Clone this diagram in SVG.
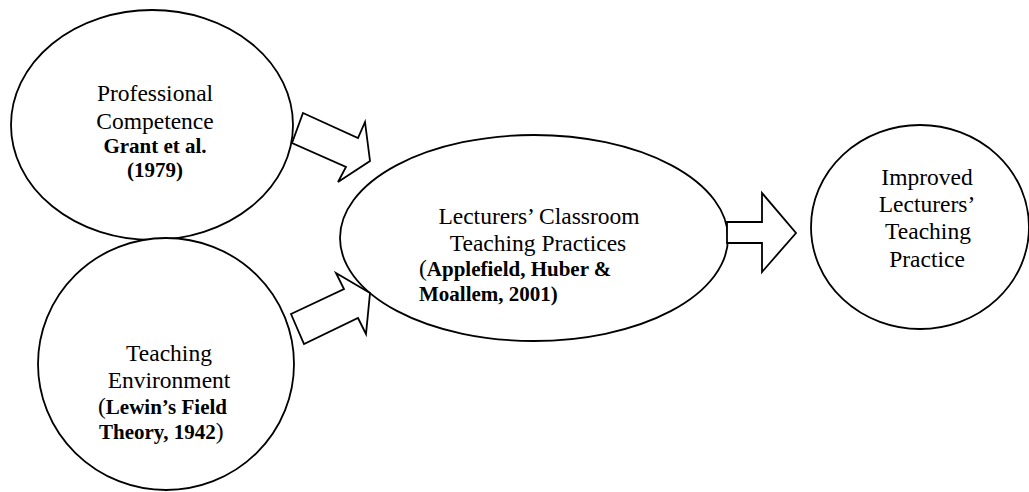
<svg xmlns="http://www.w3.org/2000/svg" width="1029" height="492" viewBox="0 0 1029 492">
<style>
.shape{fill:#fff;stroke:#000;stroke-width:1.8;stroke-linejoin:miter}
text{font-family:"Liberation Serif","Times New Roman",serif;fill:#000}
.r{font-size:23.5px}
.b{font-size:21px;font-weight:bold}
.m{text-anchor:middle}
.pr{font-weight:normal}
</style>
<rect width="1029" height="492" fill="#fff"/>
<g id="node-professional">
<ellipse class="shape" cx="152" cy="125" rx="141" ry="115"/>
<text class="r m" x="155" y="101">Professional</text>
<text class="r m" x="155" y="129">Competence</text>
<text class="b m" x="155" y="153">Grant et al.</text>
<text class="b m" x="155" y="177">(1979)</text>
</g>
<g id="node-environment">
<ellipse class="shape" cx="166" cy="364" rx="128" ry="126"/>
<text class="r m" x="169" y="361">Teaching</text>
<text class="r m" x="169" y="388">Environment</text>
<text class="b" x="98" y="414"><tspan class="pr" font-size="23.5">(</tspan>Lewin’s Field</text>
<text class="b" x="99" y="439">Theory, 1942<tspan class="pr" font-size="23.5">)</tspan></text>
</g>
<g id="node-practices">
<ellipse class="shape" cx="534" cy="238" rx="194" ry="103"/>
<text class="r m" x="539" y="224">Lecturers’ Classroom</text>
<text class="r m" x="538" y="251">Teaching Practices</text>
<text class="b" x="419" y="276"><tspan class="pr" font-size="23.5">(</tspan>Applefield, Huber &amp;</text>
<text class="b" x="419" y="301">Moallem, 2001)</text>
</g>
<g id="node-improved">
<ellipse class="shape" cx="920" cy="227" rx="109" ry="102"/>
<text class="r m" x="927" y="185">Improved</text>
<text class="r m" x="927" y="212">Lecturers’</text>
<text class="r m" x="928" y="239">Teaching</text>
<text class="r m" x="927" y="267">Practice</text>
</g>
<g id="connectors">
<polygon class="shape" points="303,113 358,138 365,122 370,161 338,182 346,167 292,143"/>
<polygon class="shape" points="291,314 344,289 336,273 370,293 366,334 358,318 304,344"/>
<polygon class="shape" points="727,222 762,222 762,193 796,233 762,272 762,243 727,243"/>
</g>
</svg>
